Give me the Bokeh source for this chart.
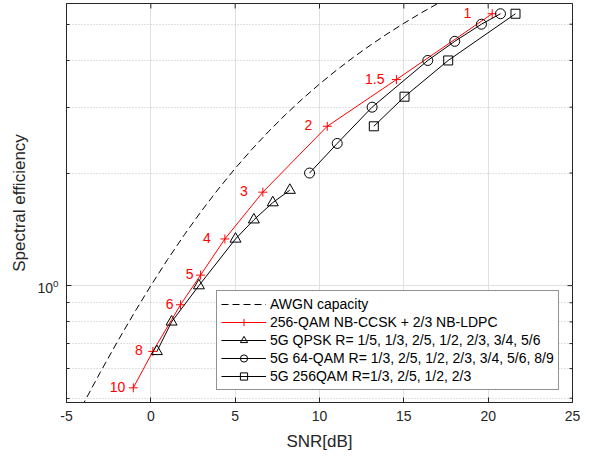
import math
from bokeh.plotting import figure
from bokeh.models import Range1d, FixedTicker, Legend, LegendItem, ColumnDataSource
from bokeh.embed import file_html
from bokeh.resources import INLINE
from bokeh.core.properties import value

# ---------------- data ----------------
awgn_snr = [-5, -4, -3, -2, -1, 0, 1, 2, 3, 4, 5, 6, 7, 8, 9, 10, 11, 12, 13, 14, 15, 16, 17, 18]
awgn_se = [0.3963, 0.4834, 0.5862, 0.7058, 0.8434, 1.0, 1.1757, 1.3702, 1.5828, 1.8122,
           2.0575, 2.3165, 2.5879, 2.8700, 3.1610, 3.4594, 3.7646, 4.0749, 4.3893, 4.7073,
           5.0280, 5.3513, 5.6762, 6.0025]

ccsk_snr = [-1.04, 0.12, 1.76, 2.95, 4.39, 6.64, 10.46, 14.56, 20.24]
ccsk_se = [0.533, 0.667, 0.889, 1.067, 1.333, 1.778, 2.667, 3.556, 5.333]
ccsk_labels = ["10", "8", "6", "5", "4", "3", "2", "1.5", "1"]

qpsk_snr = [0.36, 1.23, 2.85, 5.02, 6.11, 7.23, 8.24]
qpsk_se = [0.667, 0.8, 1.0, 1.333, 1.5, 1.667, 1.8]

qam64_snr = [9.41, 11.05, 13.12, 16.42, 18.02, 19.60, 20.73]
qam64_se = [2.0, 2.4, 3.0, 4.0, 4.5, 5.0, 5.333]

qam256_snr = [13.22, 15.04, 17.63, 21.62]
qam256_se = [2.667, 3.2, 4.0, 5.333]

X_MIN, X_MAX = -5, 25
Y_MIN, Y_MAX = 0.487, 5.68
x_ticks = [-5, 0, 5, 10, 15, 20, 25]
x_tick_labels = ["-5", "0", "5", "10", "15", "20", "25"]
y_major = [1]
y_minor = [0.5, 0.6, 0.7, 0.8, 0.9, 2, 3, 4, 5]

labels = {
    "awgn": "AWGN capacity",
    "ccsk": "256-QAM NB-CCSK + 2/3 NB-LDPC",
    "qpsk": "5G QPSK R= 1/5, 1/3, 2/5, 1/2, 2/3, 3/4, 5/6",
    "qam64": "5G 64-QAM R= 1/3, 2/5, 1/2, 2/3, 3/4, 5/6, 8/9",
    "qam256": "5G 256QAM R=1/3, 2/5, 1/2, 2/3",
}

# ---------------- style ----------------
FONT = "Liberation Sans"
AX = "#262626"
label_dx = [-8, -10, -7, -7, -14, -15, -15, -12, -21]

p = figure(width=592, height=457, x_range=Range1d(X_MIN, X_MAX), y_range=Range1d(Y_MIN, Y_MAX),
           y_axis_type="log", output_backend="svg", toolbar_location=None,
           min_border_left=66, min_border_right=20, min_border_top=3, min_border_bottom=55)
p.background_fill_color = "white"
p.border_fill_color = "white"
p.outline_line_color = AX
p.outline_line_width = 1

xt = FixedTicker(ticks=x_ticks, minor_ticks=[])
yt = FixedTicker(ticks=y_major, minor_ticks=y_minor)
p.xaxis[0].ticker = xt
p.yaxis[0].ticker = yt
p.xaxis[0].major_label_overrides = dict(zip(x_ticks, x_tick_labels))

for ax in (p.xaxis[0], p.yaxis[0]):
    ax.axis_line_color = AX
    ax.major_tick_line_color = AX
    ax.minor_tick_line_color = AX
    ax.major_tick_in = 5
    ax.major_tick_out = 0
    ax.minor_tick_in = 3
    ax.minor_tick_out = 0
    ax.major_label_text_font = FONT
    ax.major_label_text_font_size = "14px"
    ax.major_label_text_color = AX
    ax.axis_label_text_font = FONT
    ax.axis_label_text_font_size = "17px"
    ax.axis_label_text_font_style = "normal"
    ax.axis_label_text_color = AX
    ax.major_label_standoff = 8

p.xaxis[0].axis_label = "SNR[dB]"
p.yaxis[0].axis_label = "Spectral efficiency"
p.xaxis[0].axis_label_standoff = 8
p.yaxis[0].axis_label_standoff = 5

p.xgrid.ticker = xt
p.ygrid.ticker = yt
p.xgrid.grid_line_color = "#e0e0e0"
p.ygrid.grid_line_color = "#e0e0e0"
p.ygrid.minor_grid_line_color = "#c0c0c0"
p.ygrid.minor_grid_line_dash = "1 2"

# inward ticks on the top and right edges (box on), half of each dash is clipped
p.scatter(x_ticks, [Y_MAX] * len(x_ticks), marker="dash", angle=math.pi / 2, size=10,
          line_color=AX, line_width=1)
p.scatter([X_MAX] * len(y_major), y_major, marker="dash", size=10, line_color=AX, line_width=1)
p.scatter([X_MAX] * len(y_minor), y_minor, marker="dash", size=6, line_color=AX, line_width=1)

# ---------------- glyphs ----------------
r_awgn = p.line(awgn_snr, awgn_se, line_color="black", line_width=1, line_dash="7 4")

r_ccsk_l = p.line(ccsk_snr, ccsk_se, line_color="red", line_width=1)
r_ccsk_m = p.scatter(ccsk_snr, ccsk_se, marker="cross", size=9, line_color="red", line_width=1)

r_qpsk_l = p.line(qpsk_snr, qpsk_se, line_color="black", line_width=1)
r_qpsk_m = p.scatter(qpsk_snr, qpsk_se, marker="triangle", size=11, line_color="black",
                     fill_color=None, line_width=1)

r_64_l = p.line(qam64_snr, qam64_se, line_color="black", line_width=1)
r_64_m = p.scatter(qam64_snr, qam64_se, marker="circle", size=10, line_color="black",
                   fill_color=None, line_width=1)

r_256_l = p.line(qam256_snr, qam256_se, line_color="black", line_width=1)
r_256_m = p.scatter(qam256_snr, qam256_se, marker="square", size=9, line_color="black",
                    fill_color=None, line_width=1)

src = ColumnDataSource(dict(x=ccsk_snr, y=ccsk_se, t=ccsk_labels, dx=label_dx))
p.text(x="x", y="y", text="t", x_offset="dx", y_offset=-1, source=src,
       text_color="red", text_font=value(FONT), text_font_size="14px",
       text_align="right", text_baseline="middle")

legend = Legend(items=[
    LegendItem(label=labels["awgn"], renderers=[r_awgn]),
    LegendItem(label=labels["ccsk"], renderers=[r_ccsk_l, r_ccsk_m]),
    LegendItem(label=labels["qpsk"], renderers=[r_qpsk_l, r_qpsk_m]),
    LegendItem(label=labels["qam64"], renderers=[r_64_l, r_64_m]),
    LegendItem(label=labels["qam256"], renderers=[r_256_l, r_256_m]),
], location=(150, 12))
legend.label_text_font = FONT
legend.label_text_font_size = "14px"
legend.label_text_color = "black"
legend.label_height = 18
legend.glyph_height = 18
legend.glyph_width = 45
legend.label_standoff = 4
legend.spacing = 0
legend.padding = 4
legend.border_line_color = AX
legend.border_line_width = 1
legend.background_fill_color = "white"
legend.background_fill_alpha = 1
p.add_layout(legend)

open("out.html", "w").write(file_html(p, INLINE))
